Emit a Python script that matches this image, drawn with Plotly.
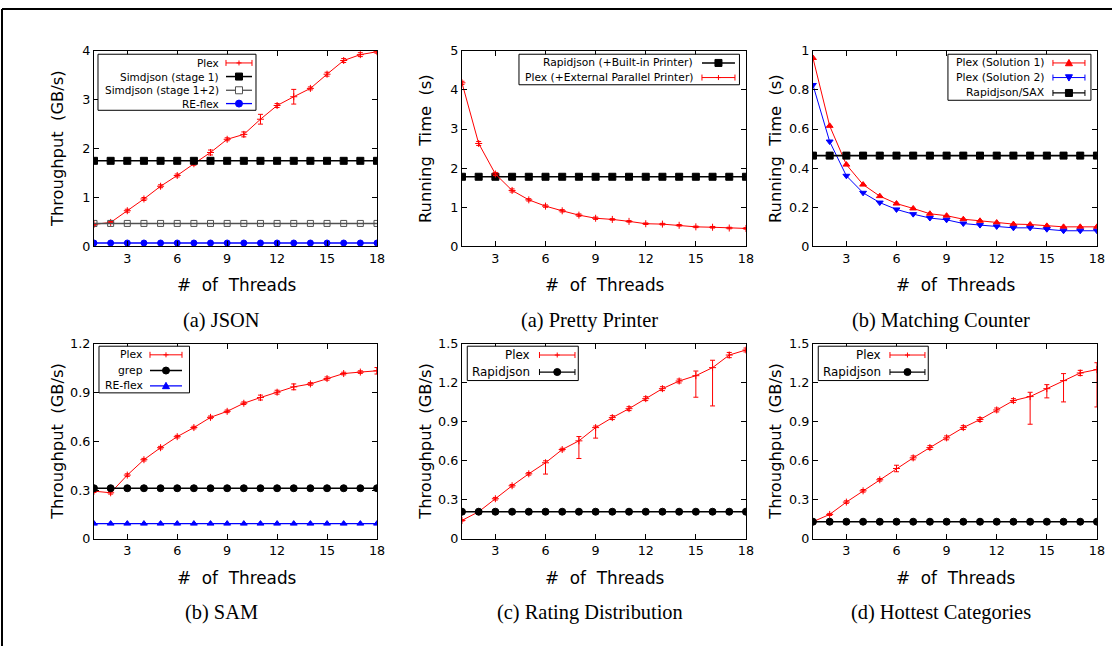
import plotly.graph_objects as go

W, H = 1120, 653

threads = list(range(1, 19))

# (a) JSON throughput (GB/s)
json_plex = [0.45, 0.49, 0.73, 0.97, 1.23, 1.45, 1.69, 1.92, 2.19, 2.29, 2.60, 2.88, 3.06, 3.23, 3.52, 3.80, 3.92, 3.98]
json_plex_err = [0.02, 0.02, 0.03, 0.03, 0.03, 0.03, 0.03, 0.05, 0.03, 0.05, 0.10, 0.04, 0.15, 0.03, 0.04, 0.04, 0.04, 0.03]
json_simd1 = 1.75
json_simd12 = 0.47
json_reflex = 0.07

# (a) Pretty printer running time (s)
pp_plex = [4.18, 2.63, 1.85, 1.43, 1.19, 1.03, 0.91, 0.80, 0.72, 0.69, 0.64, 0.58, 0.57, 0.54, 0.50, 0.49, 0.47, 0.46]
pp_plex_err = [0.04, 0.05, 0.04, 0.04, 0.03, 0.03, 0.03, 0.03, 0.03, 0.02, 0.02, 0.02, 0.02, 0.02, 0.02, 0.02, 0.02, 0.02]
pp_rapid = 1.78

# (b) Matching counter running time (s)
mc_sol1 = [0.963, 0.616, 0.418, 0.316, 0.257, 0.219, 0.194, 0.167, 0.157, 0.139, 0.131, 0.122, 0.114, 0.112, 0.105, 0.100, 0.100, 0.100]
mc_sol2 = [0.825, 0.536, 0.361, 0.274, 0.224, 0.189, 0.165, 0.145, 0.136, 0.117, 0.109, 0.102, 0.095, 0.095, 0.088, 0.080, 0.080, 0.080]
mc_sax = 0.464

# (b) SAM throughput (GB/s)
sam_plex = [0.293, 0.283, 0.392, 0.487, 0.561, 0.629, 0.685, 0.748, 0.785, 0.835, 0.870, 0.903, 0.936, 0.954, 0.987, 1.018, 1.027, 1.035]
sam_plex_err = [0.008, 0.008, 0.008, 0.008, 0.008, 0.008, 0.008, 0.008, 0.008, 0.008, 0.015, 0.012, 0.018, 0.008, 0.01, 0.008, 0.008, 0.02]
sam_grep = 0.311
sam_reflex = 0.093

# (c) Rating distribution throughput (GB/s)
rd_plex = [0.141, 0.208, 0.308, 0.408, 0.500, 0.585, 0.687, 0.754, 0.856, 0.933, 1.002, 1.079, 1.156, 1.215, 1.256, 1.318, 1.415, 1.454]
rd_err_plus = [0.005, 0.005, 0.01, 0.01, 0.01, 0.015, 0.01, 0.033, 0.012, 0.015, 0.015, 0.015, 0.015, 0.015, 0.036, 0.057, 0.02, 0.015]
rd_err_minus = [0.005, 0.005, 0.01, 0.01, 0.01, 0.087, 0.01, 0.136, 0.081, 0.015, 0.015, 0.015, 0.015, 0.015, 0.166, 0.295, 0.02, 0.015]
rd_rapid = 0.208

# (d) Hottest categories throughput (GB/s)
hc_plex = [0.131, 0.187, 0.282, 0.369, 0.454, 0.541, 0.623, 0.702, 0.777, 0.856, 0.918, 0.992, 1.064, 1.095, 1.156, 1.218, 1.277, 1.303]
hc_err_plus = [0.005, 0.008, 0.01, 0.01, 0.01, 0.025, 0.015, 0.015, 0.015, 0.015, 0.015, 0.015, 0.015, 0.033, 0.031, 0.054, 0.02, 0.053]
hc_err_minus = [0.005, 0.008, 0.01, 0.01, 0.01, 0.025, 0.015, 0.015, 0.015, 0.015, 0.015, 0.015, 0.015, 0.213, 0.071, 0.164, 0.02, 0.288]
hc_rapid = 0.131

x_ticks = [3, 6, 9, 12, 15, 18]

RED = "#ff0000"
BLUE = "#0000ff"
BLACK = "#000000"
GRAY = "#505050"
FONT = "DejaVu Sans"

# photo-to-layout correction (measured from previous renders)
SX = 1120 / 1128
SY = 653 / 669
OFF_Y = 8
FS = 1.02  # font compensation


def px(x):
    return (x / SX) / W


def py(y):
    return 1 - (y / SY - OFF_Y) / H


fig = go.Figure()


def const(v):
    return [v] * len(threads)


def plex_trace(y, ep, em, ax, name="Plex"):
    return go.Scatter(
        x=threads, y=y, name=name, mode="lines+markers",
        line=dict(color=RED, width=1),
        marker=dict(symbol="cross-thin-open", size=5, line=dict(color=RED, width=1), color=RED),
        error_y=dict(type="data", array=ep, arrayminus=em, color=RED, thickness=1, width=2.5),
        xaxis="x" + ax, yaxis="y" + ax,
    )


def line_trace(y, name, color, symbol, size, ax, width=1.5, lcolor=None):
    return go.Scatter(
        x=threads, y=y, name=name, mode="lines+markers",
        line=dict(color=lcolor or color, width=width),
        marker=dict(symbol=symbol, size=size, color=color,
                    line=dict(color=color, width=1)),
        xaxis="x" + ax, yaxis="y" + ax,
    )


# Panel 1: JSON
fig.add_trace(plex_trace(json_plex, json_plex_err, json_plex_err, ""))
fig.add_trace(line_trace(const(json_simd1), "Simdjson (stage 1)", BLACK, "square", 7, "", width=1.6))
fig.add_trace(line_trace(const(json_simd12), "Simdjson (stage 1+2)", GRAY, "square-open", 6, "", width=1.4))
fig.add_trace(line_trace(const(json_reflex), "RE-flex", BLUE, "circle", 6, "", width=1.4))

# Panel 2: Pretty printer
fig.add_trace(line_trace(const(pp_rapid), "Rapidjson (+Built-in Printer)", BLACK, "square", 7, "2", width=1.6))
fig.add_trace(plex_trace(pp_plex, pp_plex_err, pp_plex_err, "2", name="Plex (+External Parallel Printer)"))

# Panel 3: Matching counter
fig.add_trace(line_trace(mc_sol1, "Plex (Solution 1)", RED, "triangle-up", 6, "3", width=1))
fig.add_trace(line_trace(mc_sol2, "Plex (Solution 2)", BLUE, "triangle-down", 6, "3", width=1))
fig.add_trace(line_trace(const(mc_sax), "Rapidjson/SAX", BLACK, "square", 7, "3", width=1.6))

# Panel 4: SAM
fig.add_trace(plex_trace(sam_plex, sam_plex_err, sam_plex_err, "4"))
fig.add_trace(line_trace(const(sam_grep), "grep", BLACK, "circle", 7, "4", width=1.6))
fig.add_trace(line_trace(const(sam_reflex), "RE-flex", BLUE, "triangle-up", 6, "4", width=1.2))

# Panel 5: Rating distribution
fig.add_trace(plex_trace(rd_plex, rd_err_plus, rd_err_minus, "5"))
fig.add_trace(line_trace(const(rd_rapid), "Rapidjson", BLACK, "circle", 7, "5", width=1.5))

# Panel 6: Hottest categories
fig.add_trace(plex_trace(hc_plex, hc_err_plus, hc_err_minus, "6"))
fig.add_trace(line_trace(const(hc_rapid), "Rapidjson", BLACK, "circle", 7, "6", width=1.5))

# Panel geometry in target pixels: (left, right, top, bottom)
panels = [
    (94, 377, 50.5, 246),
    (462, 746, 50.5, 246),
    (813, 1097, 50.5, 246),
    (94, 377, 343.5, 538),
    (462, 746, 343.5, 538),
    (813, 1097, 343.5, 538),
]
y_ranges = [(0, 4, 1), (0, 5, 1), (0, 1, 0.2), (0, 1.2, 0.3), (0, 1.5, 0.3), (0, 1.5, 0.3)]

axis_common = dict(
    showline=True, linecolor=BLACK, linewidth=1.2, mirror="allticks",
    ticks="inside", ticklen=5, tickcolor=BLACK, tickwidth=1,
    showgrid=False, zeroline=False,
    tickfont=dict(family=FONT, size=12.5 * FS, color=BLACK),
)

layout = {}
for i, ((l, r, t, b), (y0, y1, dt)) in enumerate(zip(panels, y_ranges)):
    sfx = "" if i == 0 else str(i + 1)
    layout["xaxis" + sfx] = dict(
        domain=[px(l), px(r)], range=[1, 18], tickvals=x_ticks,
        anchor="y" + sfx, **axis_common)
    layout["yaxis" + sfx] = dict(
        domain=[py(b), py(t)], range=[y0, y1], dtick=dt, tick0=0,
        anchor="x" + sfx, **axis_common)

NB = "\u00a0"
y_titles = [
    ("Throughput" + NB + NB + "(GB/s)", 57.5),
    ("Running" + NB + NB + "Time" + NB + NB + "(s)", 425.5),
    ("Running" + NB + NB + "Time" + NB + NB + "(s)", 775.5),
    ("Throughput" + NB + NB + "(GB/s)", 57.5),
    ("Throughput" + NB + NB + "(GB/s)", 425.5),
    ("Throughput" + NB + NB + "(GB/s)", 775.5),
]
captions = ["(a) JSON", "(a) Pretty Printer", "(b) Matching Counter",
            "(b) SAM", "(c) Rating Distribution", "(d) Hottest Categories"]

annotations = []
shapes = []

for i, ((l, r, t, b), (yt, yx), cap) in enumerate(zip(panels, y_titles, captions)):
    cx = (l + r) / 2
    cy = (t + b) / 2
    annotations.append(dict(
        text=yt, x=px(yx), y=py(cy), xref="paper", yref="paper",
        xanchor="center", yanchor="middle", textangle=-90, showarrow=False,
        font=dict(family=FONT, size=16 * FS, color=BLACK)))
    annotations.append(dict(
        text="#" + NB + NB + "of" + NB + NB + "Threads", x=px(cx + 1), y=py(b + 39),
        xref="paper", yref="paper", xanchor="center", yanchor="middle",
        showarrow=False, font=dict(family=FONT, size=16.5 * FS, color=BLACK)))
    annotations.append(dict(
        text=cap, x=px(cx - 14), y=py(b + 74),
        xref="paper", yref="paper", xanchor="center", yanchor="middle",
        showarrow=False, font=dict(family="Liberation Serif", size=20 * FS, color=BLACK)))


# ---- gnuplot-style keys (text right-aligned, sample on the right) ----
def pline(x0, y0, x1, y1, color, width):
    shapes.append(dict(type="line", xref="paper", yref="paper",
                       x0=px(x0), y0=py(y0), x1=px(x1), y1=py(y1),
                       line=dict(color=color, width=width)))


def symbol(kind, x, y, color, s=3.5):
    if kind in ("square", "square-open"):
        shapes.append(dict(type="rect", xref="paper", yref="paper",
                           x0=px(x - s), x1=px(x + s), y0=py(y + s), y1=py(y - s),
                           fillcolor=color if kind == "square" else "white",
                           line=dict(color=color, width=1)))
    elif kind == "circle":
        shapes.append(dict(type="circle", xref="paper", yref="paper",
                           x0=px(x - s), x1=px(x + s), y0=py(y + s), y1=py(y - s),
                           fillcolor=color, line=dict(color=color, width=1)))
    elif kind in ("triangle-up", "triangle-down"):
        d = -1 if kind == "triangle-up" else 1
        path = "M {} {} L {} {} L {} {} Z".format(
            px(x), py(y + d * s), px(x - s), py(y - d * s * 0.8), px(x + s), py(y - d * s * 0.8))
        shapes.append(dict(type="path", xref="paper", yref="paper", path=path,
                           fillcolor=color, line=dict(color=color, width=1)))
    elif kind == "plus":
        pline(x - 2.5, y, x + 2.5, y, color, 1)
        pline(x, y - 2.5, x, y + 2.5, color, 1)


def key(box, text_right, s0, s1, entries, fsize):
    bx0, bx1, by0, by1 = box
    shapes.append(dict(type="rect", xref="paper", yref="paper",
                       x0=px(bx0), x1=px(bx1), y0=py(by1), y1=py(by0),
                       fillcolor="white", line=dict(color=BLACK, width=1)))
    for (label, y, color, kind, caps, lw) in entries:
        annotations.append(dict(
            text=label, x=px(text_right), y=py(y), xref="paper", yref="paper",
            xanchor="right", yanchor="middle", showarrow=False,
            font=dict(family=FONT, size=fsize, color=BLACK)))
        pline(s0, y, s1, y, color, lw)
        if caps:
            pline(s0, y - 3, s0, y + 3, color, 1)
            pline(s1, y - 3, s1, y + 3, color, 1)
        symbol(kind, (s0 + s1) / 2, y, color)


key((98, 256, 54, 110), 221, 226, 252, [
    ("Plex", 62.7, RED, "plus", True, 1),
    ("Simdjson (stage 1)", 76.3, BLACK, "square", False, 1.5),
    ("Simdjson (stage 1+2)", 90, GRAY, "square-open", False, 1.3),
    ("RE-flex", 103.3, BLUE, "circle", False, 1.3),
], 10.5)
key((519, 739.5, 54, 84.5), 695.5, 702, 735, [
    ("Rapidjson (+Built-in Printer)", 62.7, BLACK, "square", False, 1.5),
    ("Plex (+External Parallel Printer)", 77.3, RED, "plus", True, 1),
], 10.7)
key((948, 1091, 54, 100), 1047, 1053, 1085, [
    ("Plex (Solution 1)", 62.7, RED, "triangle-up", True, 1),
    ("Plex (Solution 2)", 77.3, BLUE, "triangle-down", True, 1),
    ("Rapidjson/SAX", 92.7, BLACK, "square", True, 1.3),
], 10.8)
key((99, 189.5, 345.7, 392.3), 145.5, 150, 182, [
    ("Plex", 354.3, RED, "plus", True, 1),
    ("grep", 370, BLACK, "circle", False, 1.5),
    ("RE-flex", 385.3, BLUE, "triangle-up", False, 1.2),
], 10.8)
key((467.3, 578.3, 345.7, 380), 532, 539.5, 575, [
    ("Plex", 354.5, RED, "plus", True, 1),
    ("Rapidjson", 371.5, BLACK, "circle", True, 1.3),
], 11.9)
key((818.3, 928.3, 345.7, 380), 883.5, 890, 925, [
    ("Plex", 354.5, RED, "plus", True, 1),
    ("Rapidjson", 371.5, BLACK, "circle", True, 1.3),
], 11.9)

# outer frame lines of the figure (top and left)
shapes.append(dict(type="line", xref="paper", yref="paper", x0=px(2), x1=1, y0=1 - 1 / H, y1=1 - 1 / H,
                   line=dict(color=BLACK, width=2)))
shapes.append(dict(type="line", xref="paper", yref="paper", x0=px(2), x1=px(2), y0=0, y1=1 - 1 / H,
                   line=dict(color=BLACK, width=2)))

fig.update_layout(
    width=W, height=H, margin=dict(l=0, r=0, t=0, b=0),
    paper_bgcolor="white", plot_bgcolor="white",
    annotations=annotations, shapes=shapes, showlegend=False,
    **layout,
)

fig.write_html(
    "out.html",
    config={"displayModeBar": False, "responsive": False},
    post_script=(
        "document.documentElement.style.margin='0px';"
        "document.documentElement.style.overflow='hidden';"
        "document.body.style.margin='0px';"
        "document.body.style.overflow='hidden';"
        "var d=document.getElementById('{plot_id}');"
        "d.style.position='fixed';d.style.left='0px';d.style.top='0px';"
    ),
)
